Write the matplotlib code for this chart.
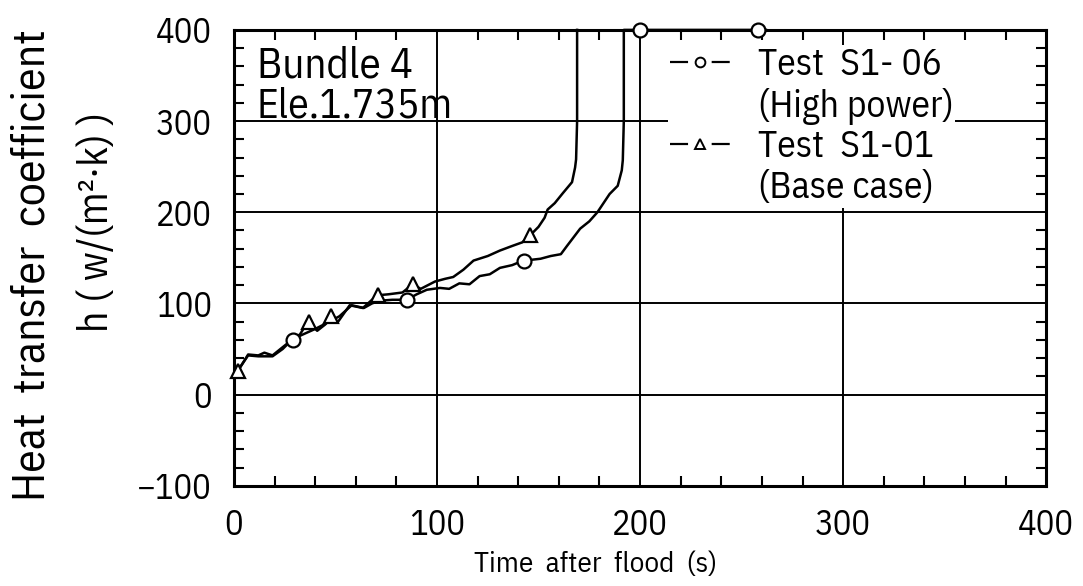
import matplotlib
matplotlib.use("Agg")
import matplotlib.pyplot as plt
from matplotlib.lines import Line2D
from matplotlib.ticker import MultipleLocator

plt.rcParams["font.family"] = ["IBM Plex Sans Condensed", "DejaVu Sans"]
plt.rcParams["font.weight"] = "normal"
plt.rcParams["lines.scale_dashes"] = False

# Test S1-06 (high power): h vs time after flood
t_s106 = [0, 3, 7, 12, 19, 24, 28.5, 33, 40, 47, 52, 58, 64, 68, 72, 78, 85, 90, 95,
          101.5, 106, 111, 116, 121, 126, 131, 137, 142.5, 147, 151, 156, 161, 164,
          170.5, 175, 179, 185, 189, 191, 191.5, 192, 192, 200, 230, 258, 262]
h_s106 = [18, 30, 43, 42, 42, 50, 60, 65, 72, 80, 86, 98, 95, 100, 103, 104, 104, 110, 115,
          117, 116, 122, 121, 130, 132, 139, 142, 147, 148, 149, 152, 154, 163,
          182, 190, 200, 220, 229, 246, 257, 300, 400, 400, 400, 400, 400]
mark_t_s106 = [29, 85, 143, 200, 258]
mark_h_s106 = [60, 104, 147, 400, 400]

# Test S1-01 (base case)
t_s101 = [0, 2, 7, 12, 15, 19, 24, 28.5, 32.5, 36.5, 41, 45, 48, 51, 57, 63.5, 68, 71,
          76, 83, 88, 92, 99, 104, 108, 113, 118, 125, 131, 137, 142, 146, 150, 153,
          154.5, 158, 162, 166.5, 168, 168.5, 169, 169]
h_s101 = [18, 26, 44, 43, 46, 43, 52, 60, 66, 80, 70, 77, 86, 79, 98, 95, 104, 109,
          110, 112, 121, 116, 124, 127, 129, 137, 147, 152, 158, 163, 167, 175, 184, 194,
          203, 210, 221, 233, 249, 258, 300, 400]
mark_t_s101 = [2, 37, 48, 71, 88, 146]
mark_h_s101 = [26, 80, 86, 109, 121, 175]

x_ticks = [0, 100, 200, 300, 400]
y_ticks = [-100, 0, 100, 200, 300, 400]

fig = plt.figure(figsize=(10.83, 5.86), dpi=100)
ax = fig.add_axes([0.216, 0.171, 0.750, 0.778])

ax.set_xlim(0, 400)
ax.set_ylim(-100, 400)
ax.set_xticks(x_ticks)
ax.set_yticks(y_ticks)
ax.xaxis.set_minor_locator(MultipleLocator(20))
ax.yaxis.set_minor_locator(MultipleLocator(20))
ax.tick_params(which="both", direction="in", top=True, right=True, width=1.5, colors="black")
ax.tick_params(which="major", length=0)
ax.tick_params(which="minor", length=7)
ax.tick_params(axis="x", which="major", labelsize=25, pad=16)
ax.tick_params(axis="y", which="major", labelsize=25, pad=16)
for sp in ax.spines.values():
    sp.set_linewidth(2.2)

# inner grid only (no line on the spines)
for gx in [100, 200, 300]:
    ax.axvline(gx, color="black", lw=1.4, zorder=1)
for gy in [0, 100, 200, 300]:
    ax.axhline(gy, color="black", lw=1.4, zorder=1)

ax.plot(t_s106, h_s106, color="black", lw=1.8, zorder=3, clip_on=False)
ax.plot(t_s101, h_s101, color="black", lw=1.8, zorder=3, clip_on=False)
ax.plot(mark_t_s106, mark_h_s106, linestyle="none", marker="o", ms=10, mfc="white",
        mec="black", mew=1.6, zorder=6, clip_on=False)
ax.plot(mark_t_s101, mark_h_s101, linestyle="none", marker="^", ms=10, mfc="white",
        mec="black", mew=1.6, zorder=4, clip_on=False)

ax.text(0.028, 0.965, "Bundle 4", transform=ax.transAxes, ha="left", va="top", fontsize=31)
ax.text(0.028, 0.875, "Ele.1.735m", transform=ax.transAxes, ha="left", va="top", fontsize=30)

# legend: marker row + caption row per test
blank = Line2D([], [], linestyle="none")
leg_o = Line2D([], [], color="black", lw=1.6, dashes=[13, 17, 13, 100], marker="o", ms=7,
               mfc="white", mec="black", mew=1.4)
leg_t = Line2D([], [], color="black", lw=1.6, dashes=[13, 17, 13, 100], marker="^", ms=7,
               mfc="white", mec="black", mew=1.4)
leg = ax.legend([leg_o, blank, leg_t, blank],
                ["Test  S1- 06", "(High power)", "Test  S1-01", "(Base case)"],
                loc="upper left", bbox_to_anchor=(0.534, 0.966), fontsize=27,
                frameon=True, fancybox=False, framealpha=1, facecolor="white",
                edgecolor="none", borderaxespad=0, borderpad=0.05, labelspacing=0.12,
                handlelength=1.6, handletextpad=0.75, numpoints=1)
leg.set_zorder(5)

fig.text(0.030, 0.548, "Heat  transfer  coefficient", rotation=90, ha="center", va="center",
         fontsize=33)
fig.text(0.089, 0.621, "h ( w/(m²·k) )", rotation=90, ha="center", va="center", fontsize=30)
fig.text(0.550, 0.036, "Time  after  flood  (s)", ha="center", va="center", fontsize=21)

fig.savefig("out.png", dpi=100)
